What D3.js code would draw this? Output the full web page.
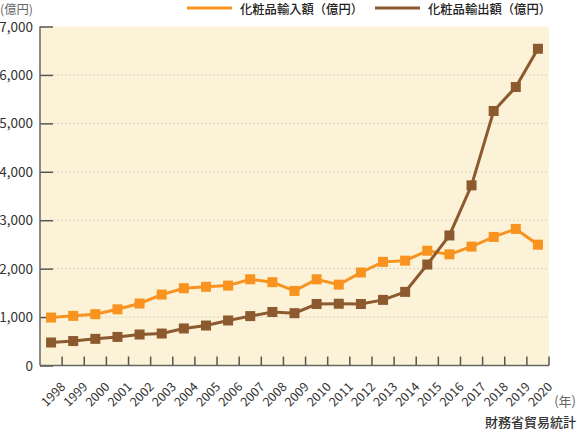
<!DOCTYPE html>
<html>
<head>
<meta charset="utf-8">
<script src="https://cdn.jsdelivr.net/npm/d3@7"></script>
<style>
body { margin: 0; background: #fff; }
text { font-family: "Noto Sans CJK JP", "Noto Sans", sans-serif; fill: #333; }
</style>
</head>
<body>
<div id="chart"></div>
<script>
var years = ['1998','1999','2000','2001','2002','2003','2004','2005','2006','2007','2008',
	'2009','2010','2011','2012','2013','2014','2015','2016','2017','2018','2019','2020']
var imports = [990,1025,1060,1160,1280,1465,1595,1625,1650,1780,1720,
	1540,1780,1670,1920,2140,2165,2370,2295,2455,2655,2820,2495]
var exports = [475,505,550,590,640,660,765,825,930,1020,1105,
	1080,1270,1275,1270,1355,1520,2085,2685,3720,5255,5750,6540]
var yTicks = [0,1000,2000,3000,4000,5000,6000,7000]
var series = [
	{name: '化粧品輸入額（億円）', values: imports, color: '#F7931E'},
	{name: '化粧品輸出額（億円）', values: exports, color: '#8C5A2E'}
]

var W = 577, H = 434
var pLeft = 40, pRight = 549, pTop = 26.5, pBottom = 365.5

var svg = d3.select('#chart').append('svg')
	.attr('width', W).attr('height', H)

var x = d3.scaleBand().domain(years).range([pLeft, pRight])
var y = d3.scaleLinear().domain([0, 7000]).range([pBottom, pTop])

// background
svg.append('rect')
	.attr('x', pLeft).attr('y', pTop)
	.attr('width', pRight - pLeft).attr('height', pBottom - pTop)
	.style('fill', '#FCF2D8')

// grid
svg.append('g').selectAll('line').data(yTicks.filter(d => d > 0 && d < 7000)).join('line')
	.attr('x1', pLeft + 13).attr('x2', pRight)
	.attr('y1', d => y(d)).attr('y2', d => y(d))
	.style('stroke', '#d9d2c2').style('stroke-width', 1).style('stroke-dasharray', '2,2')

// y axis
var yAxis = svg.append('g').attr('transform', 'translate(' + pLeft + ',0)')
	.call(d3.axisRight(y).tickValues(yTicks).tickSize(13).tickFormat(''))
yAxis.select('.domain').remove()
yAxis.selectAll('.tick line').style('stroke', '#555').style('stroke-width', 1.5)
svg.append('line').attr('x1', pLeft).attr('x2', pLeft).attr('y1', pTop).attr('y2', pBottom)
	.style('stroke', '#666').style('stroke-width', 1.5)
svg.append('g').selectAll('text').data(yTicks).join('text')
	.attr('x', 33).attr('y', d => y(d) + 5)
	.attr('text-anchor', 'end')
	.style('font-size', '13.5px')
	.text(d => d3.format(',')(d))

// x axis
svg.append('line').attr('x1', pLeft).attr('x2', pRight).attr('y1', pBottom).attr('y2', pBottom)
	.style('stroke', '#666').style('stroke-width', 1.5)
svg.append('g').selectAll('line').data(years).join('line')
	.attr('x1', d => x(d) + x.bandwidth()).attr('x2', d => x(d) + x.bandwidth())
	.attr('y1', pBottom).attr('y2', pBottom - 9)
	.style('stroke', '#555').style('stroke-width', 1.5)
svg.append('g').selectAll('text').data(years).join('text')
	.attr('transform', d => 'translate(' + (x(d) + x.bandwidth() / 2 + 9) + ',' + (pBottom + 16) + ') rotate(-45)')
	.attr('text-anchor', 'end')
	.attr('dy', '0.7em')
	.style('font-size', '12.5px')
	.text(d => d)

// lines and markers
var line = d3.line()
	.x((d, i) => x(years[i]) + x.bandwidth() / 2)
	.y(d => y(d))

series.forEach(s => {
	svg.append('path').datum(s.values)
		.attr('d', line)
		.style('fill', 'none').style('stroke', s.color).style('stroke-width', 3)
	svg.append('g').selectAll('rect').data(s.values).join('rect')
		.attr('x', (d, i) => x(years[i]) + x.bandwidth() / 2 - 5)
		.attr('y', d => y(d) - 5)
		.attr('width', 10).attr('height', 10)
		.style('fill', s.color)
})

// legend
var legendX = [187, 375]
series.forEach((s, i) => {
	var g = svg.append('g').attr('transform', 'translate(' + legendX[i] + ',8)')
	g.append('line').attr('x1', 0).attr('x2', 45).attr('y1', 0).attr('y2', 0)
		.style('stroke', s.color).style('stroke-width', 3)
	g.append('text').attr('x', 53).attr('y', 6)
		.style('font-size', '12.3px').style('font-weight', 500).style('fill', '#222')
		.text(s.name)
})

// labels
svg.append('text').attr('x', 0).attr('y', 14).style('font-size', '12.3px').style('fill', '#666').text('(億円)')
svg.append('text').attr('x', 576).attr('y', 406).attr('text-anchor', 'end')
	.style('font-size', '13px').style('fill', '#666').text('(年)')
svg.append('text').attr('x', 576).attr('y', 427).attr('text-anchor', 'end')
	.style('font-size', '13px').style('font-weight', 500).text('財務省貿易統計')
</script>
</body>
</html>
